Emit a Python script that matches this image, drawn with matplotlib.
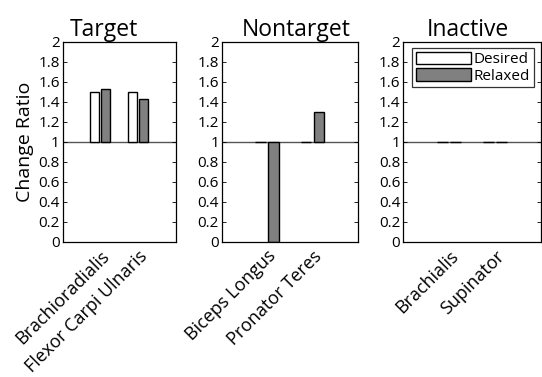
import numpy as np
import matplotlib
matplotlib.use("Agg")
import matplotlib.pyplot as plt

plt.rcParams['font.family'] = ['Open Sans', 'DejaVu Sans']

# data
groups = ["Target", "Nontarget", "Inactive"]
muscles = [["Brachioradialis", "Flexor Carpi Ulnaris"],
           ["Biceps Longus", "Pronator Teres"],
           ["Brachialis", "Supinator"]]
desired = [[1.50, 1.50], [1.00, 1.00], [1.00, 1.00]]
relaxed = [[1.53, 1.43], [0.00, 1.30], [1.00, 1.00]]
yticks = [0, 0.2, 0.4, 0.6, 0.8, 1, 1.2, 1.4, 1.6, 1.8, 2]
ytick_labels = ["0", "0.2", "0.4", "0.6", "0.8", "1", "1.2", "1.4", "1.6", "1.8", "2"]

W, H = 542, 377
fig = plt.figure(figsize=(W / 100, H / 100), dpi=100)

# axes boxes in pixels (left, right)
boxes = [(62.5, 175.7), (221.7, 358.0), (403.0, 541.0)]
top, bottom = 41.7, 241.7
# titles are not quite centred in the original
title_x = [0.367, 0.545, 0.471]

base = 1.0
bw = 0.23
off = 0.143

for i, (l, r) in enumerate(boxes):
    ax = fig.add_axes([l / W, 1 - bottom / H, (r - l) / W, (bottom - top) / H])
    x = np.arange(1, len(muscles[i]) + 1)
    d = np.array(desired[i]) - base
    rl = np.array(relaxed[i]) - base
    ax.axhline(base, color="#555555", linewidth=1.0, zorder=1)
    ax.bar(x - off, d, bw, bottom=base, color="white", edgecolor="black",
           linewidth=1.0, label="Desired", zorder=2)
    ax.bar(x + off, rl, bw, bottom=base, color="#808080", edgecolor="black",
           linewidth=1.0, label="Relaxed", zorder=2)
    ax.set_xlim(0, 3)
    ax.set_ylim(0, 2)
    ax.set_yticks(yticks)
    ax.set_yticklabels(ytick_labels, fontsize=11)
    ax.set_xticks(x)
    ax.set_xticklabels(muscles[i], rotation=45, ha="right",
                       rotation_mode="anchor", fontsize=13)
    ax.tick_params(axis="y", direction="in", right=True, length=3,
                   width=0.6, pad=2)
    ax.tick_params(axis="x", length=0, pad=4)
    for s in ax.spines.values():
        s.set_linewidth(0.9)
    ax.set_title(groups[i], fontsize=16.5, pad=4, x=title_x[i])
    if i == 0:
        ax.set_ylabel("Change Ratio", fontsize=14, labelpad=3)
    if i == 2:
        leg = ax.legend(loc="upper left", bbox_to_anchor=(0.065, 0.97),
                        fontsize=11, frameon=True, fancybox=False,
                        handlelength=3.6, handleheight=0.9,
                        handletextpad=0.2, borderpad=0.25,
                        labelspacing=0.05, borderaxespad=0)
        leg.get_frame().set_edgecolor("black")
        leg.get_frame().set_linewidth(0.9)

fig.savefig("out.png", dpi=100)
